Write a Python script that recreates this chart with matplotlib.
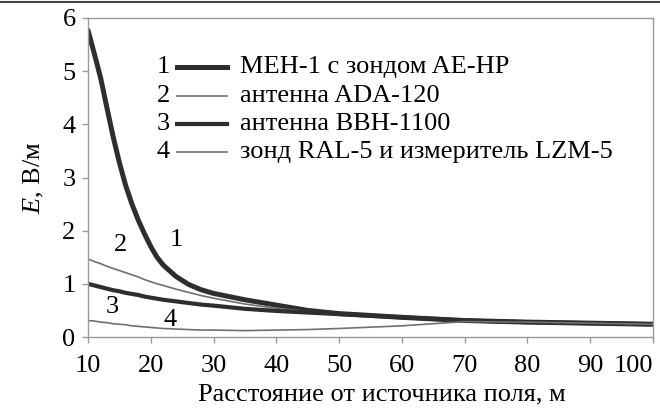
import matplotlib
matplotlib.use("Agg")
import matplotlib.pyplot as plt
from matplotlib.lines import Line2D

plt.rcParams['font.family'] = ['Liberation Serif', 'DejaVu Serif']
plt.rcParams['mathtext.fontset'] = 'custom'
plt.rcParams['mathtext.it'] = 'Liberation Serif:italic'
plt.rcParams['mathtext.rm'] = 'Liberation Serif'

distance = [10, 11, 12, 13, 14, 15, 16, 17, 18, 19, 20, 21, 22, 24, 26, 28, 30,
            35, 40, 45, 50, 60, 70, 80, 90, 100]
e_meh1 = [5.77, 5.33, 4.88, 4.32, 3.77, 3.28, 2.85, 2.50, 2.20, 1.94, 1.70, 1.50, 1.35,
          1.14, 0.99, 0.89, 0.82, 0.70, 0.60, 0.50, 0.44, 0.37, 0.31, 0.28, 0.26, 0.24]
e_ada120 = [1.47, 1.42, 1.38, 1.33, 1.29, 1.25, 1.21, 1.17, 1.13, 1.08, 1.04, 1.00, 0.97,
            0.90, 0.84, 0.78, 0.73, 0.62, 0.54, 0.48, 0.43, 0.36, 0.31, 0.28, 0.26, 0.24]
e_bbh1100 = [1.00, 0.97, 0.94, 0.91, 0.88, 0.86, 0.83, 0.81, 0.79, 0.76, 0.74, 0.72, 0.70,
             0.67, 0.64, 0.61, 0.59, 0.53, 0.49, 0.46, 0.43, 0.37, 0.31, 0.28, 0.26, 0.24]
e_ral5 = [0.31, 0.30, 0.28, 0.27, 0.25, 0.24, 0.23, 0.21, 0.20, 0.19, 0.18, 0.17, 0.16,
          0.15, 0.14, 0.13, 0.13, 0.12, 0.13, 0.14, 0.16, 0.21, 0.29, 0.28, 0.26, 0.24]

legend_labels = ["МЕН-1 с зондом AE-HP", "антенна ADA-120", "антенна BBH-1100",
                 "зонд RAL-5 и измеритель LZM-5"]
curve_numbers = ["1", "2", "3", "4"]
x_ticks = [10, 20, 30, 40, 50, 60, 70, 80, 90, 100]
y_ticks = [0, 1, 2, 3, 4, 5, 6]

FS = 19

fig = plt.figure(figsize=(6.6, 4.08), dpi=100)
ax = fig.add_axes([88/660, 1-337/408, (653-88)/660, (337-18)/408])

styles = [
    dict(color='#2e2e2e', lw=3.6),
    dict(color='#707070', lw=1.2),
    dict(color='#2e2e2e', lw=3.0),
    dict(color='#707070', lw=1.2),
]
series = [e_meh1, e_ada120, e_bbh1100, e_ral5]
for s, st in zip(series, styles):
    ax.plot(distance, s, solid_capstyle='round', solid_joinstyle='round', **st)

ax.set_xlim(10, 100)
ax.set_ylim(0, 6)
ax.set_xticks(x_ticks)
ax.set_yticks(y_ticks)
ax.set_xticklabels([str(t) for t in x_ticks], fontsize=FS)
ax.set_yticklabels([str(t) for t in y_ticks], fontsize=FS)
ax.get_xticklabels()[-1].set_horizontalalignment('right')
for sp in ax.spines.values():
    sp.set_color('#999999')
    sp.set_linewidth(1.0)
ax.tick_params(axis='both', direction='out', length=4, width=1, color='#999999')
ax.tick_params(axis='x', pad=9)
ax.tick_params(axis='y', pad=5)

ax.set_xlabel("Расстояние от источника поля, м", fontsize=FS, labelpad=5)
ax.xaxis.set_label_coords((382-88)/565, -0.145, transform=ax.transAxes)
ax.xaxis.label.set_verticalalignment('top')
ax.set_ylabel("$E$, В/м", fontsize=FS, labelpad=12)

# curve numbers
for txt, (xx, yy) in zip(curve_numbers, [(24.1, 1.82), (15.1, 1.73), (13.8, 0.57), (23.1, 0.32)]):
    ax.text(xx, yy, txt, fontsize=FS, ha='center', va='center')

# legend
leg_y = [67, 96, 124, 152]
for i, (lab, st) in enumerate(zip(legend_labels, styles)):
    yf = 1 - leg_y[i]/408
    fig.text(163/660, yf, curve_numbers[i], fontsize=FS, ha='center', va='center')
    fig.add_artist(Line2D([177/660, 227/660], [yf, yf], transform=fig.transFigure, **st))
    fig.text(240/660, yf, lab, fontsize=FS, ha='left', va='center')

# top rule
fig.add_artist(Line2D([0, 1], [1-2/408, 1-2/408], transform=fig.transFigure, color='#444444', lw=1.5))

fig.savefig("out.png", dpi=100)
